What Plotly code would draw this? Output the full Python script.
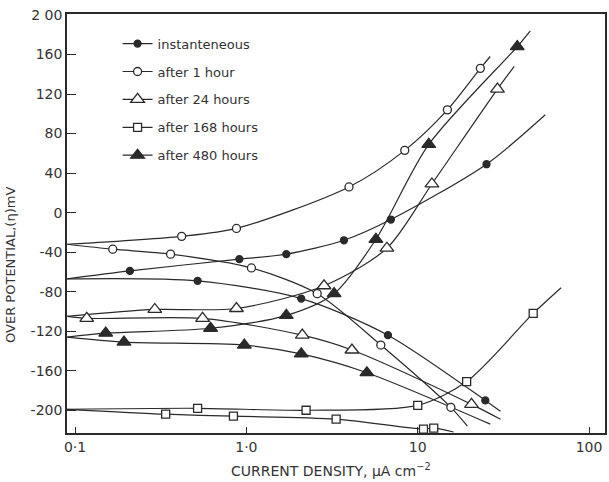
import plotly.graph_objects as go

# ---------------- data (current density in uA/cm2, over potential in mV) -------------
series_names = ["instanteneous", "after 1 hour", "after 24 hours", "after 168 hours", "after 480 hours"]

# instantaneous
inst_an_i = [0.09, 0.209, 0.91, 1.71, 3.71, 6.97, 25.2, 55.5]
inst_an_v = [-67, -59, -47, -42, -28, -7, 49, 99]
inst_an_m = [0, 1, 1, 1, 1, 1, 1, 0]
inst_ca_i = [0.09, 0.519, 2.09, 6.70, 24.8, 30.4]
inst_ca_v = [-67, -69, -87, -124, -190, -201]
inst_ca_m = [0, 1, 1, 1, 1, 0]

# after 1 hour
h1_an_i = [0.09, 0.419, 0.875, 3.97, 8.40, 14.9, 23.2, 26.5]
h1_an_v = [-32, -24, -16, 26, 63, 104, 146, 158]
h1_an_m = [0, 1, 1, 1, 1, 1, 1, 0]
h1_ca_i = [0.09, 0.166, 0.361, 1.07, 2.59, 6.09, 15.6, 19.5]
h1_ca_v = [-32, -37, -42, -56, -82, -134, -197, -216]
h1_ca_m = [0, 1, 1, 1, 1, 1, 1, 0]

# after 24 hours
h24_an_i = [0.09, 0.292, 0.875, 2.84, 6.61, 12.1, 29.2, 36.6]
h24_an_v = [-105, -98, -97, -74, -36, 29, 125, 148]
h24_an_m = [0, 1, 1, 1, 1, 1, 1, 0]
h24_ca_i = [0.09, 0.117, 0.555, 2.12, 4.13, 20.6, 30.4]
h24_ca_v = [-105, -107, -107, -124, -139, -194, -209]
h24_ca_m = [0, 1, 1, 1, 1, 1, 0]

# after 168 hours
h168_an_i = [0.09, 0.519, 2.23, 10.0, 19.3, 47.2, 68.7]
h168_an_v = [-199, -198, -200, -195, -171, -102, -76]
h168_an_m = [0, 1, 1, 1, 1, 1, 0]
h168_ca_i = [0.09, 0.338, 0.840, 3.34, 10.8, 12.4, 16.2]
h168_ca_v = [-199, -204, -206, -209, -219, -218, -222]
h168_ca_m = [0, 1, 1, 1, 1, 1, 0]

# after 480 hours
h480_an_i = [0.09, 0.151, 0.618, 1.71, 3.25, 5.70, 11.6, 38.1, 45.4]
h480_an_v = [-126, -122, -117, -104, -82, -27, 69, 168, 184]
h480_an_m = [0, 1, 1, 1, 1, 1, 1, 1, 0]
h480_ca_i = [0.09, 0.193, 0.973, 2.09, 5.05, 26.5]
h480_ca_v = [-126, -131, -134, -143, -162, -214]
h480_ca_m = [0, 1, 1, 1, 1, 0]

x_tick_vals = [0.1, 1, 10, 100]
x_tick_text = ["0·1", "1·0", "10", "100"]
y_tick_vals = [200, 160, 120, 80, 40, 0, -40, -80, -120, -160, -200]
y_tick_text = ["2 00", "160", "120", "80", "40", "0", "-40", "-80", "-120", "-160", "-200"]

# ---------------- styling ----------------
INK = "#2a2a2a"
styles = {
    "instanteneous": dict(symbol="circle", size=7, color=INK),
    "after 1 hour": dict(symbol="circle", size=8, color="white"),
    "after 24 hours": dict(symbol="triangle-up", size=12, color="white"),
    "after 168 hours": dict(symbol="square", size=8, color="white"),
    "after 480 hours": dict(symbol="triangle-up", size=12, color=INK),
}

branches = [
    ("instanteneous", inst_an_i, inst_an_v, inst_an_m),
    ("instanteneous", inst_ca_i, inst_ca_v, inst_ca_m),
    ("after 1 hour", h1_an_i, h1_an_v, h1_an_m),
    ("after 1 hour", h1_ca_i, h1_ca_v, h1_ca_m),
    ("after 24 hours", h24_an_i, h24_an_v, h24_an_m),
    ("after 24 hours", h24_ca_i, h24_ca_v, h24_ca_m),
    ("after 168 hours", h168_an_i, h168_an_v, h168_an_m),
    ("after 168 hours", h168_ca_i, h168_ca_v, h168_ca_m),
    ("after 480 hours", h480_an_i, h480_an_v, h480_an_m),
    ("after 480 hours", h480_ca_i, h480_ca_v, h480_ca_m),
]

fig = go.Figure()

# curves (smooth lines)
for name, xi, yv, mk in branches:
    fig.add_trace(go.Scatter(
        x=xi, y=yv, mode="lines", line=dict(color=INK, width=1.2, shape="spline", smoothing=0.8),
        showlegend=False, hoverinfo="skip", legendgroup=name))

# markers on top
for name, xi, yv, mk in branches:
    st = styles[name]
    px = [a for a, m in zip(xi, mk) if m]
    py = [b for b, m in zip(yv, mk) if m]
    fig.add_trace(go.Scatter(
        x=px, y=py, mode="markers",
        marker=dict(symbol=st["symbol"], size=st["size"], color=st["color"],
                    line=dict(color=INK, width=1.3)),
        showlegend=False, legendgroup=name))

# legend entries
for name in series_names:
    st = styles[name]
    fig.add_trace(go.Scatter(
        x=[None], y=[None], mode="lines+markers", name=name, legendgroup=name,
        line=dict(color=INK, width=1.2),
        marker=dict(symbol=st["symbol"], size=st["size"], color=st["color"],
                    line=dict(color=INK, width=1.3))))

FONT = "DejaVu Sans"
fig.update_layout(
    width=609, height=482,
    margin=dict(l=67, r=2, t=14, b=49),
    paper_bgcolor="white", plot_bgcolor="white",
    font=dict(family=FONT, size=13, color="#333333"),
    showlegend=True,
    legend=dict(x=0.094, y=0.965, xanchor="left", yanchor="top",
                bgcolor="rgba(0,0,0,0)", font=dict(size=13, color="#333333"),
                traceorder="grouped", tracegroupgap=8, itemwidth=30),
    xaxis=dict(type="log", range=[-1.047, 2.093], tickvals=x_tick_vals, ticktext=x_tick_text,
               ticks="inside", ticklen=6, tickcolor=INK, showgrid=False, zeroline=False,
               showline=True, linecolor=INK, linewidth=1.6, mirror=True,
               tickfont=dict(size=14), ticklabeloverflow="allow"),
    yaxis=dict(range=[-223, 201], tickvals=y_tick_vals, ticktext=y_tick_text,
               ticks="inside", ticklen=9, tickcolor=INK, showgrid=False, zeroline=False,
               showline=True, linecolor=INK, linewidth=1.6, mirror=True,
               tickfont=dict(size=14)),
    annotations=[
        dict(text="CURRENT DENSITY, μA cm<sup>−2</sup>", xref="paper", yref="paper",
             x=0.49, y=-0.088, xanchor="center", yanchor="middle", showarrow=False,
             font=dict(size=14, color="#333333")),
        dict(text="OVER POTENTIAL,(η)mV", xref="paper", yref="paper",
             x=-0.105, y=0.40, xanchor="center", yanchor="middle", showarrow=False,
             textangle=-90, font=dict(size=13, color="#333333")),
    ],
)

fig.write_html("out.html", config={"displayModeBar": False},
               post_script="document.body.style.margin='0';")
